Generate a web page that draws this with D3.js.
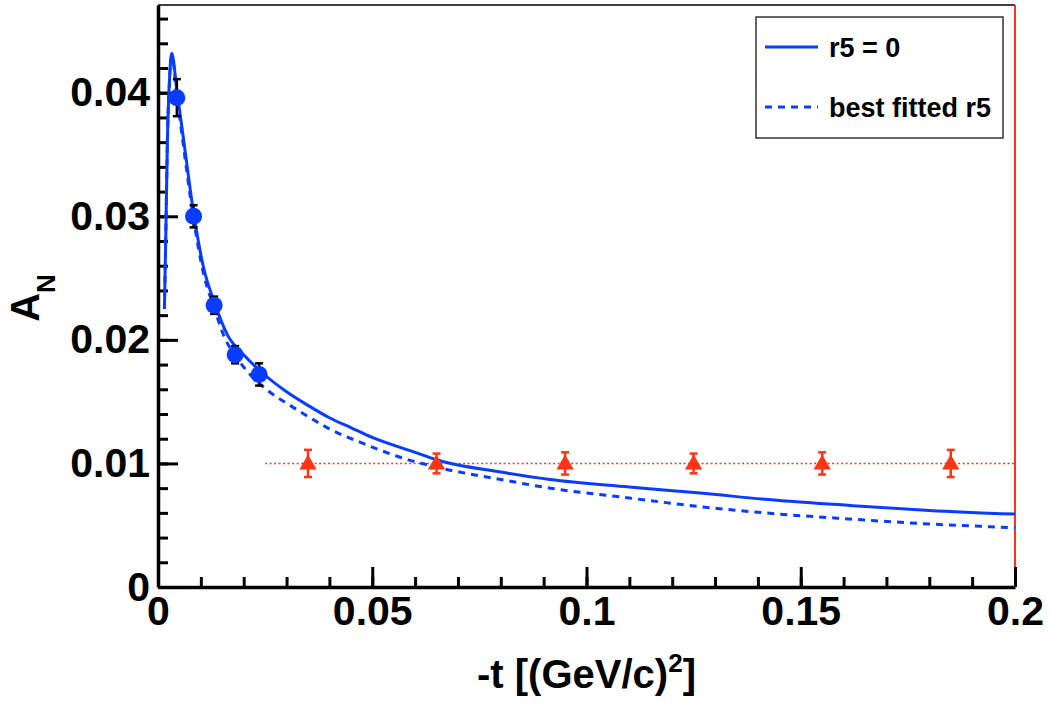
<!DOCTYPE html>
<html>
<head>
<meta charset="utf-8">
<script src="https://cdn.jsdelivr.net/npm/d3@7"></script>
<style>
  body { margin: 0; background: #fff; }
  svg { display: block; font-family: "Liberation Sans", Arial, sans-serif; font-weight: bold; }
</style>
</head>
<body>
<svg id="chart" width="1050" height="705"></svg>
<script>
// data
let blueT = [0.0044, 0.0083, 0.0131, 0.0180, 0.0236]
let blueA = [0.0396, 0.0300, 0.0228, 0.0188, 0.0172]
let blueErr = [0.0015, 0.0009, 0.0007, 0.0007, 0.0009]

let redT = [0.035, 0.065, 0.095, 0.125, 0.155, 0.185]
let redA = [0.0100, 0.0100, 0.0100, 0.0100, 0.0100, 0.0100]
let redErr = [0.0011, 0.0008, 0.0009, 0.0008, 0.0009, 0.0011]

// r5 = 0 curve
let solidT = [0.0015, 0.0018, 0.0022, 0.0027, 0.0032, 0.0044, 0.0059, 0.0083, 0.0106, 0.0131, 0.0162, 0.0200, 0.0238, 0.030, 0.035, 0.040, 0.045, 0.050, 0.060, 0.065, 0.080, 0.0915, 0.110, 0.1265, 0.145, 0.1615, 0.180, 0.200]
let solidA = [0.0225, 0.0281, 0.0362, 0.0412, 0.0432, 0.0402, 0.0364, 0.0303, 0.0259, 0.0231, 0.0204, 0.0188, 0.0175, 0.0158, 0.0147, 0.0137, 0.0129, 0.0121, 0.0109, 0.0103, 0.0093, 0.0087, 0.0081, 0.0076, 0.0070, 0.0066, 0.0062, 0.0059]

// best fitted r5 curve
let dashT = [0.0015, 0.0018, 0.0022, 0.0027, 0.0032, 0.0044, 0.0059, 0.0083, 0.0106, 0.0131, 0.0154, 0.0185, 0.0215, 0.0260, 0.0308, 0.035, 0.040, 0.048, 0.0565, 0.065, 0.080, 0.0915, 0.110, 0.1265, 0.145, 0.1615, 0.180, 0.200]
let dashA = [0.0225, 0.0281, 0.0362, 0.0410, 0.0430, 0.0398, 0.0358, 0.0298, 0.0254, 0.0226, 0.0203, 0.0185, 0.0172, 0.0158, 0.0147, 0.0138, 0.0128, 0.0116, 0.0105, 0.0097, 0.0087, 0.0080, 0.0072, 0.0065, 0.0059, 0.0055, 0.0051, 0.0048]

let xMajor = [0, 0.05, 0.1, 0.15, 0.2]
let xLabels = ["0", "0.05", "0.1", "0.15", "0.2"]
let yMajor = [0, 0.01, 0.02, 0.03, 0.04]
let yLabels = ["0", "0.01", "0.02", "0.03", "0.04"]

let legendNames = ["r5 = 0", "best fitted r5"]
let dotLineFrom = 0.025

let blue = "#0a3cff"
let red = "#ff3414"

let margin = ({ top: 5, right: 35, bottom: 118, left: 158 })
let width = 1050
let height = 705

let x = d3.scaleLinear()
    .domain([0, 0.2])
    .range([margin.left, width - margin.right])

let y = d3.scaleLinear()
    .domain([0, 0.0471])
    .range([height - margin.bottom, margin.top])

const svg = d3.select("#chart")

// frame: top black, right red
svg.append("line")
    .attr("x1", x(0)).attr("x2", x(0.2))
    .attr("y1", y(0.0471)).attr("y2", y(0.0471))
    .attr("stroke", "#000").attr("stroke-width", 1.5)
svg.append("line")
    .attr("x1", x(0.2)).attr("x2", x(0.2))
    .attr("y1", y(0.0471)).attr("y2", y(0))
    .attr("stroke", red).attr("stroke-width", 2)

// minor ticks
let xMinor = d3.range(0, 0.2001, 0.01)
let yMinor = d3.range(0, 0.0471, 0.002)

svg.append("g")
    .attr("transform", `translate(0,${y(0)})`)
    .call(d3.axisBottom(x).tickValues(xMinor).tickFormat("").tickSizeInner(-10).tickSizeOuter(0))
    .call(g => g.select(".domain").remove())
    .call(g => g.selectAll(".tick line").attr("stroke", "#000").attr("stroke-width", 3))

svg.append("g")
    .attr("transform", `translate(${x(0)},0)`)
    .call(d3.axisLeft(y).tickValues(yMinor).tickFormat("").tickSizeInner(-10).tickSizeOuter(0))
    .call(g => g.select(".domain").remove())
    .call(g => g.selectAll(".tick line").attr("stroke", "#000").attr("stroke-width", 3))

// major axes
let xAxis = g => g
    .attr("transform", `translate(0,${y(0)})`)
    .call(d3.axisBottom(x).tickValues(xMajor).tickFormat((d, i) => xLabels[i]).tickSizeInner(-20).tickSizeOuter(0).tickPadding(9))
    .call(g => g.select(".domain").attr("stroke", "#000").attr("stroke-width", 3.5))
    .call(g => g.selectAll(".tick line").attr("stroke", "#000").attr("stroke-width", 3))
    .call(g => g.selectAll(".tick text")
        .attr("font-size", 41).attr("font-weight", "bold")
        .attr("font-family", "Liberation Sans, Arial, sans-serif")
        .attr("fill", "#000"))

let yAxis = g => g
    .attr("transform", `translate(${x(0)},0)`)
    .call(d3.axisLeft(y).tickValues(yMajor).tickFormat((d, i) => yLabels[i]).tickSizeInner(-20).tickSizeOuter(0).tickPadding(8))
    .call(g => g.select(".domain").attr("stroke", "#000").attr("stroke-width", 3.5))
    .call(g => g.selectAll(".tick line").attr("stroke", "#000").attr("stroke-width", 3))
    .call(g => g.selectAll(".tick text")
        .attr("font-size", 41).attr("font-weight", "bold")
        .attr("font-family", "Liberation Sans, Arial, sans-serif")
        .attr("fill", "#000"))

svg.append("g").call(xAxis)
svg.append("g").call(yAxis)

// axis titles
let xt = svg.append("text")
    .attr("x", (x(0) + x(0.2)) / 2)
    .attr("y", 688)
    .attr("text-anchor", "middle")
    .attr("font-size", 40)
xt.append("tspan").text("-t [(GeV/c)")
xt.append("tspan").attr("font-size", 26).attr("dy", -16).text("2")
xt.append("tspan").attr("dy", 16).text("]")

let yt = svg.append("text")
    .attr("transform", "translate(39,298) rotate(-90)")
    .attr("text-anchor", "middle")
    .attr("font-size", 40)
yt.append("tspan").text("A")
yt.append("tspan").attr("font-size", 26).attr("dy", 16).text("N")

// red dotted line
svg.append("line")
    .attr("x1", x(dotLineFrom)).attr("x2", x(0.2))
    .attr("y1", y(redA[0])).attr("y2", y(redA[0]))
    .attr("stroke", red).attr("stroke-width", 1.5)
    .attr("stroke-dasharray", "2,2.5")

// curves
let line = d3.line()
    .x(d => x(d[0]))
    .y(d => y(d[1]))
    .curve(d3.curveMonotoneX)

svg.append("path")
    .datum(dashT.map((t, i) => [t, dashA[i]]))
    .attr("fill", "none")
    .attr("stroke", blue)
    .attr("stroke-width", 3)
    .attr("stroke-dasharray", "7,6")
    .attr("d", line)

svg.append("path")
    .datum(solidT.map((t, i) => [t, solidA[i]]))
    .attr("fill", "none")
    .attr("stroke", blue)
    .attr("stroke-width", 3)
    .attr("d", line)

// error bars
function errBars(ts, as, es, color) {
    let g = svg.append("g").attr("stroke", color).attr("stroke-width", 2.5)
    ts.forEach((t, i) => {
        let cx = x(t)
        let top = y(as[i] + es[i])
        let bot = y(as[i] - es[i])
        g.append("line").attr("x1", cx).attr("x2", cx).attr("y1", top).attr("y2", bot)
        g.append("line").attr("x1", cx - 4).attr("x2", cx + 4).attr("y1", top).attr("y2", top)
        g.append("line").attr("x1", cx - 4).attr("x2", cx + 4).attr("y1", bot).attr("y2", bot)
    })
}
errBars(blueT, blueA, blueErr, "#000")
errBars(redT, redA, redErr, red)

// markers
svg.append("g")
    .selectAll("circle")
    .data(blueT)
    .join("circle")
    .attr("cx", d => x(d))
    .attr("cy", (d, i) => y(blueA[i]))
    .attr("r", 8.5)
    .attr("fill", blue)

svg.append("g")
    .selectAll("path")
    .data(redT)
    .join("path")
    .attr("transform", (d, i) => `translate(${x(d)},${y(redA[i]) + 1})`)
    .attr("d", d3.symbol(d3.symbolTriangle, 130))
    .attr("fill", red)

// legend
let lg = svg.append("g")
lg.append("rect")
    .attr("x", 756).attr("y", 17)
    .attr("width", 247).attr("height", 121)
    .attr("fill", "#fff")
    .attr("stroke", "#333").attr("stroke-width", 1.5)

legendNames.forEach((name, i) => {
    let ly = 47 + i * 60
    lg.append("line")
        .attr("x1", 765).attr("x2", 818)
        .attr("y1", ly).attr("y2", ly)
        .attr("stroke", blue).attr("stroke-width", 3)
        .attr("stroke-dasharray", i == 1 ? "7,6" : null)
    lg.append("text")
        .attr("x", 829).attr("y", ly + 10)
        .attr("font-size", 27)
        .text(name)
})
</script>
</body>
</html>
